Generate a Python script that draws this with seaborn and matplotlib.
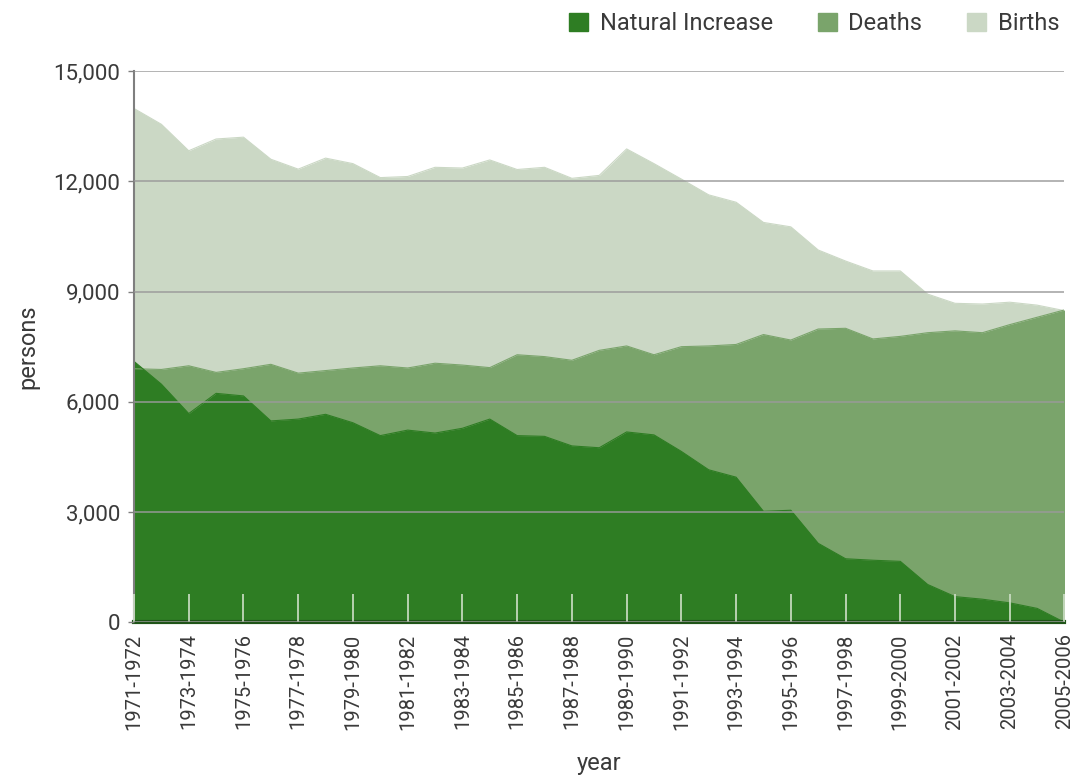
# Births, deaths and natural increase - overlapping area chart

import numpy as np
import seaborn as sns
from matplotlib import pyplot as plt
from matplotlib.patches import Patch
from matplotlib.ticker import FuncFormatter

# ======================================================================
# Data
# ======================================================================
periods = [f"{y}-{y + 1}" for y in range(1971, 2006)]

births = [13980, 13550, 12830, 13150, 13200, 12600, 12330, 12630, 12480, 12100,
          12130, 12380, 12360, 12580, 12320, 12380, 12080, 12160, 12880, 12480,
          12060, 11630, 11430, 10880, 10760, 10130, 9830, 9560, 9560, 8930,
          8680, 8660, 8710, 8630, 8480]

deaths = [6900, 6880, 6980, 6800, 6900, 7020, 6780, 6850, 6920, 6980,
          6920, 7050, 7000, 6930, 7280, 7230, 7130, 7400, 7520, 7280,
          7500, 7520, 7560, 7830, 7680, 7980, 8000, 7710, 7780, 7880,
          7930, 7880, 8100, 8300, 8500]

natural_increase = [7100, 6480, 5680, 6230, 6160, 5480, 5530, 5660, 5430, 5080,
                    5230, 5150, 5280, 5530, 5080, 5060, 4800, 4750, 5180, 5100,
                    4650, 4150, 3950, 3020, 3050, 2150, 1730, 1690, 1660, 1030,
                    700, 630, 530, 380, 0]

y_ticks = [0, 3000, 6000, 9000, 12000, 15000]

DARK = "#2e7d23"
MID = "#7aa46b"
LIGHT = "#cbd8c5"
TEXT = "#3a3a3a"

# ======================================================================
# Plot
# ======================================================================
sns.set_theme(style="white")
plt.rcParams["font.family"] = ["Roboto", "DejaVu Sans"]

fig = plt.figure(figsize=(10.72, 7.76), dpi=100)
ax = fig.add_axes([0.125, 0.198, 0.868, 0.7105])

x = np.arange(len(periods))
for values, colour in [(births, LIGHT), (deaths, MID), (natural_increase, DARK)]:
    ax.fill_between(x, values, color=colour, lw=0)
    sns.lineplot(x=x, y=values, color=colour, lw=0.8, ax=ax)

ax.set_xlim(0, len(periods) - 1)
ax.set_ylim(0, 15000)

# grid drawn on top of the areas
ax.set_axisbelow(False)
ax.yaxis.grid(True, color="#9a9a9a", lw=1.4, alpha=0.75)
ax.xaxis.grid(False)

ax.set_yticks(y_ticks)
ax.yaxis.set_major_formatter(FuncFormatter(lambda v, _: f"{int(v):,}"))
ax.tick_params(axis="y", labelsize=16, colors="#7f7f7f", labelcolor=TEXT,
               length=4, width=1, direction="out", left=True, pad=6)

ax.set_xticks(x[::2])
ax.set_xticklabels(periods[::2], rotation=90)
ax.tick_params(axis="x", labelsize=14.5, direction="in", length=20, width=1.2,
               colors="#cfe0c8", labelcolor=TEXT, bottom=True, pad=8)

for side in ["top", "right"]:
    ax.spines[side].set_visible(False)
ax.spines["left"].set_color("#7f7f7f")
ax.spines["left"].set_linewidth(1.5)
ax.spines["bottom"].set_color("#1f5418")
ax.spines["bottom"].set_linewidth(3)

ax.set_ylabel("persons", fontsize=17, color=TEXT)
ax.yaxis.set_label_coords(-0.102, 0.5)
ax.set_xlabel("year", fontsize=17, color=TEXT)
ax.xaxis.set_label_coords(0.5, -0.236)

handles = [Patch(color=DARK, label="Natural Increase"),
           Patch(color=MID, label="Deaths"),
           Patch(color=LIGHT, label="Births")]
fig.legend(handles=handles, loc="upper right", bbox_to_anchor=(1.008, 1.012),
           ncol=3, frameon=False, fontsize=17, handlelength=0.8, handleheight=0.8,
           columnspacing=1.9, handletextpad=0.5, labelcolor=TEXT)

fig.savefig("out.png", dpi=100)
